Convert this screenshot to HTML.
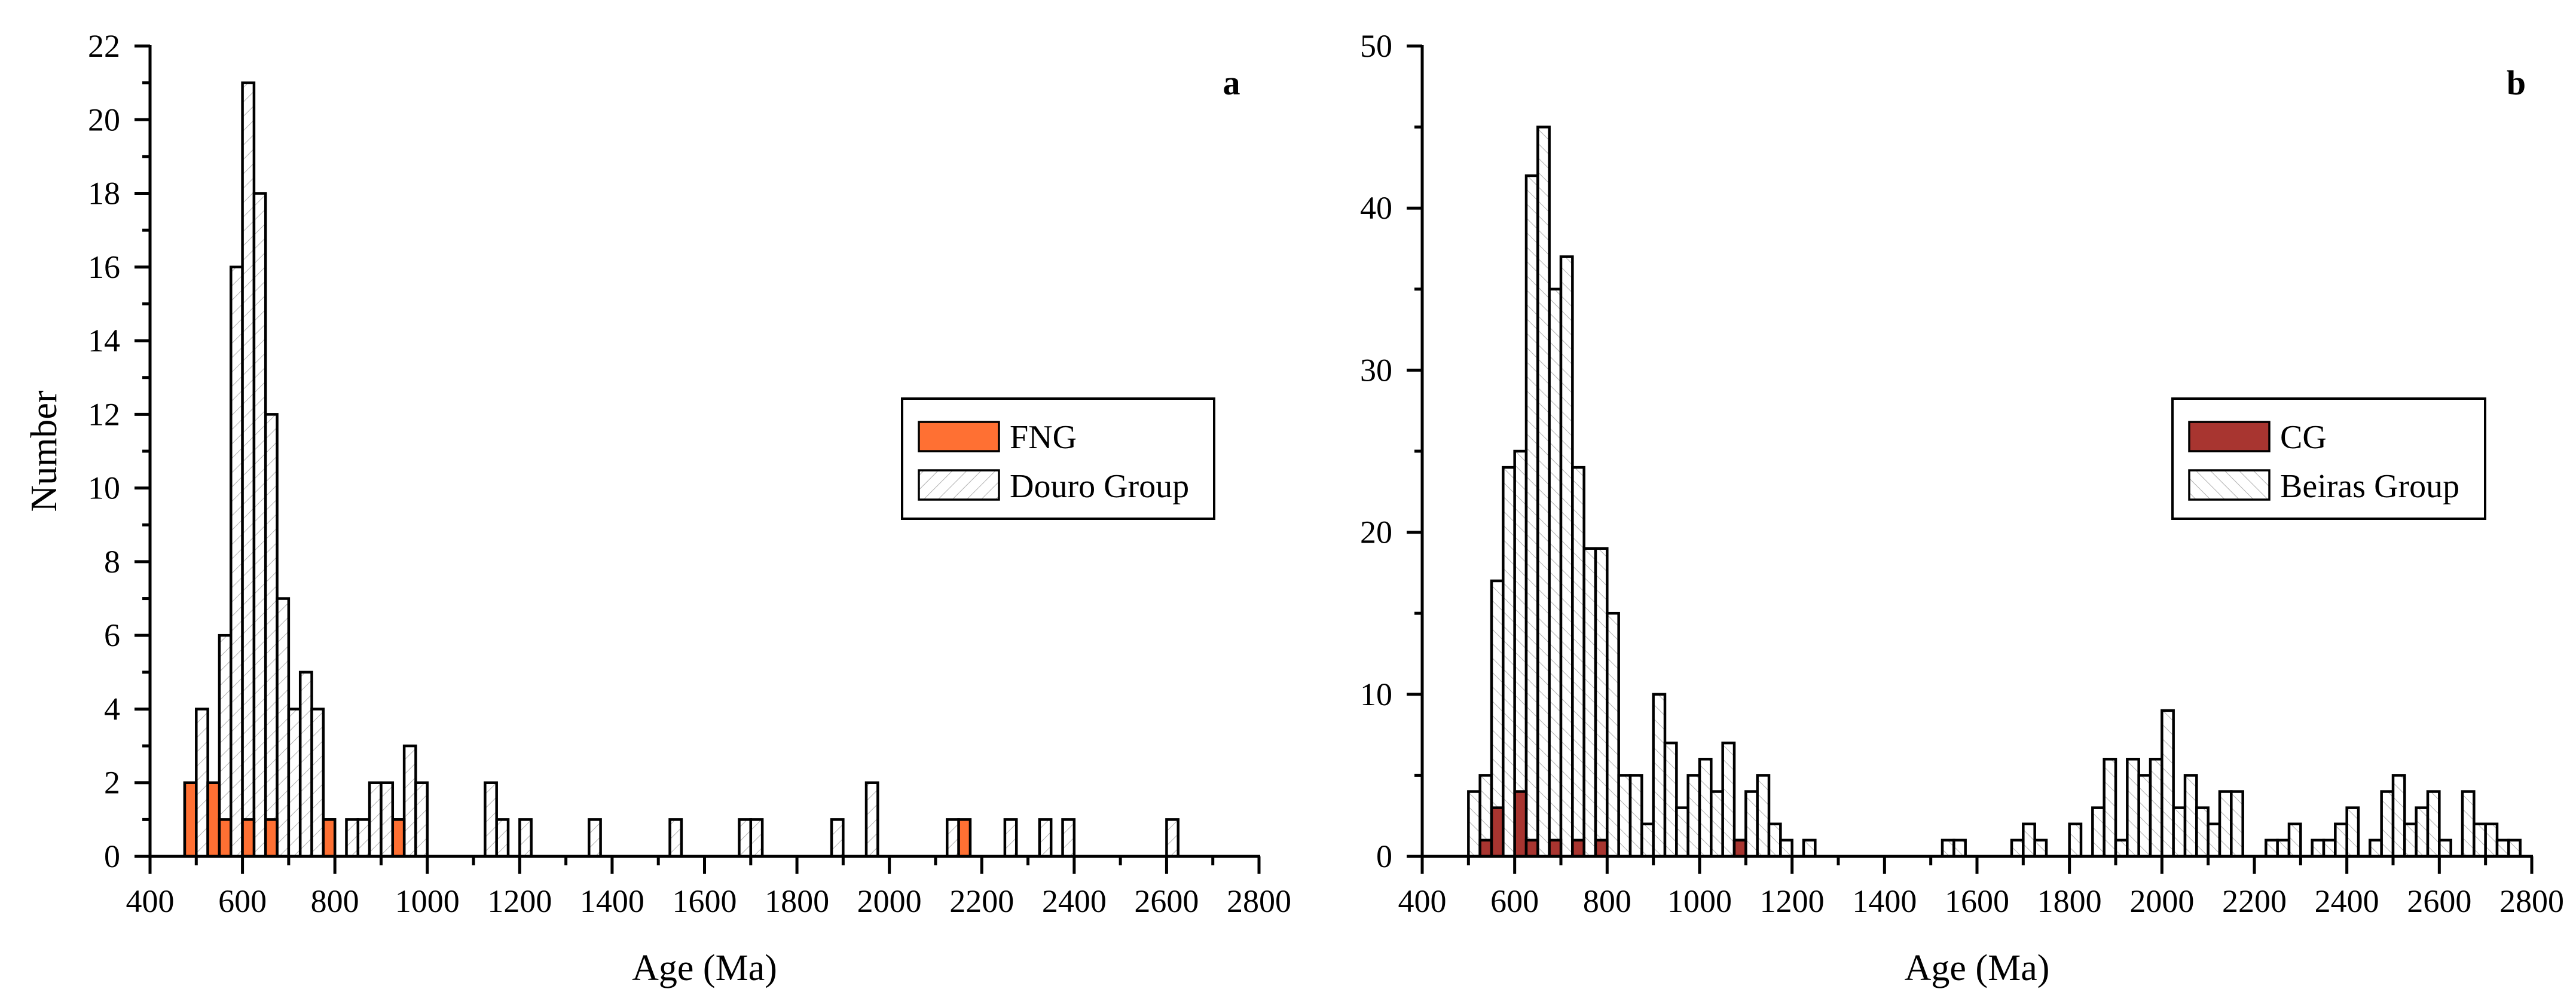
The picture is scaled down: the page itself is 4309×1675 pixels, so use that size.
<!DOCTYPE html>
<html><head><meta charset="utf-8"><style>
html,body{margin:0;padding:0;background:#fff;}
svg{display:block;font-family:"Liberation Serif",serif;}
</style></head><body>
<svg id="chart" width="4309" height="1675" viewBox="0 0 4309 1675" xmlns="http://www.w3.org/2000/svg">
<defs>
<pattern id="hatchA" patternUnits="userSpaceOnUse" width="17" height="17" patternTransform="rotate(45)"><rect width="17" height="17" fill="#fff"/><line x1="0" y1="0" x2="0" y2="17" stroke="#b0b0b0" stroke-width="2"/></pattern>
<pattern id="hatchB" patternUnits="userSpaceOnUse" width="17" height="17" patternTransform="rotate(-45)"><rect width="17" height="17" fill="#fff"/><line x1="0" y1="0" x2="0" y2="17" stroke="#b0b0b0" stroke-width="2"/></pattern>
</defs>
</svg>
<script>
// Panel a data
const douroBins = [475,500,525,550,575,600,625,650,675,700,725,750,775,825,850,875,900,925,950,975,1125,1150,1200,1350,1525,1675,1700,1875,1950,2125,2250,2325,2375,2600];
const douroCounts = [2,4,2,6,16,21,18,12,7,4,5,4,1,1,1,2,2,1,3,2,2,1,1,1,1,1,1,1,2,1,1,1,1,1];
const fngBins = [475,525,550,600,650,775,925,2150];
const fngCounts = [2,2,1,1,1,1,1,1];
const yTicksA = [0,2,4,6,8,10,12,14,16,18,20,22];
// Panel b data
const beirasBins = [500,525,550,575,600,625,650,675,700,725,750,775,800,825,850,875,900,925,950,975,1000,1025,1050,1075,1100,1125,1150,1175,1225,1525,1550,1675,1700,1725,1800,1850,1875,1900,1925,1950,1975,2000,2025,2050,2075,2100,2125,2150,2225,2250,2275,2325,2350,2375,2400,2450,2475,2500,2525,2550,2575,2600,2650,2675,2700,2725,2750];
const beirasCounts = [4,5,17,24,25,42,45,35,37,24,19,19,15,5,5,2,10,7,3,5,6,4,7,1,4,5,2,1,1,1,1,1,2,1,2,3,6,1,6,5,6,9,3,5,3,2,4,4,1,1,2,1,1,2,3,1,4,5,2,3,4,1,4,2,2,1,1];
const cgBins = [525,550,600,625,675,725,775,1075];
const cgCounts = [1,3,4,1,1,1,1,1];
const yTicksB = [0,10,20,30,40,50];
const xTicks = [400,600,800,1000,1200,1400,1600,1800,2000,2200,2400,2600,2800];
const binWidth = 25;

const svg = document.getElementById('chart');
const NS = 'http://www.w3.org/2000/svg';
function mk(tag, attrs, parent){
  const e = document.createElementNS(NS, tag);
  for (const k in attrs) e.setAttribute(k, attrs[k]);
  (parent||svg).appendChild(e);
  return e;
}

function panel(opt){
  const g = mk('g', {});
  
  
  const x0 = opt.x0, x1 = opt.x1, yb = 1433, yt = 77;
  const xs = v => x0 + (v - 400) / 2400 * (x1 - x0);
  const ys = v => yb - v / opt.ymax * (yb - yt);
  opt.bgBins.forEach((b, i) => {
    const r = mk('rect', {x: xs(b), y: ys(opt.bgCounts[i]), width: xs(b + binWidth) - xs(b), height: yb - ys(opt.bgCounts[i]), fill: 'url(#' + opt.hatch + ')', stroke: '#000', 'stroke-width': 4.5}, g);
    
    
  });
  opt.fgBins.forEach((b, i) => {
    const r = mk('rect', {x: xs(b), y: ys(opt.fgCounts[i]), width: xs(b + binWidth) - xs(b), height: yb - ys(opt.fgCounts[i]), fill: opt.fgColor, stroke: '#000', 'stroke-width': 4.5}, g);
    
    
  });
  const ax = mk('line', {x1: x0, y1: yb, x2: x1 + 2, y2: yb, stroke: '#000', 'stroke-width': 5}, g);
  
  
  const ay = mk('line', {x1: x0, y1: yb + 2, x2: x0, y2: yt - 2, stroke: '#000', 'stroke-width': 5}, g);
  
  
  for (let v = 400; v <= 2800; v += 100) {
    const major = v % 200 === 0;
    mk('line', {x1: xs(v), y1: yb, x2: xs(v), y2: yb + (major ? 29 : 15), stroke: '#000', 'stroke-width': 5}, g);
  }
  xTicks.forEach(v => {
    const t = mk('text', {x: xs(v), y: 1526, 'font-size': 54, 'text-anchor': 'middle', fill: '#000'}, g);
    t.textContent = v;
    
    
  });
  for (let v = 0; v <= opt.ymax; v += opt.minor) {
    const major = opt.yTicks.includes(v);
    mk('line', {x1: x0, y1: ys(v), x2: x0 - (major ? 26 : 13), y2: ys(v), stroke: '#000', 'stroke-width': 5}, g);
  }
  opt.yTicks.forEach(v => {
    const t = mk('text', {x: x0 - 50, y: ys(v) + 18, 'font-size': 54, 'text-anchor': 'end', fill: '#000'}, g);
    t.textContent = v;
    
    
  });
  const xt = mk('text', {x: (x0 + x1) / 2, y: 1640, 'font-size': 62, 'text-anchor': 'middle', fill: '#000'}, g);
  xt.textContent = 'Age (Ma)';
  
  
  const pl = mk('text', {x: opt.letterX, y: 158, 'font-size': 58, 'font-weight': 'bold', 'text-anchor': 'middle', fill: '#000'}, g);
  pl.textContent = opt.letter;
  
  
  const lg = mk('g', {}, g);
  
  
  mk('rect', {x: opt.lx, y: 667, width: opt.lw, height: 201, fill: '#fff', stroke: '#000', 'stroke-width': 4}, lg);
  const s1 = mk('rect', {x: opt.lx + 28, y: 706, width: 134, height: 49, fill: opt.fgColor, stroke: '#000', 'stroke-width': 3.5}, lg);
  
  
  const t1 = mk('text', {x: opt.lx + 180, y: 750, 'font-size': 56, fill: '#000'}, lg);
  t1.textContent = opt.fgLabel;
  
  
  const s2 = mk('rect', {x: opt.lx + 28, y: 787, width: 134, height: 49, fill: 'url(#' + opt.hatch + ')', stroke: '#000', 'stroke-width': 3.5}, lg);
  
  
  const t2 = mk('text', {x: opt.lx + 180, y: 832, 'font-size': 56, fill: '#000'}, lg);
  t2.textContent = opt.bgLabel;
  
  
}

panel({name: 'panel-a-douro', x0: 251, x1: 2106, ymax: 22, minor: 1, yTicks: yTicksA,
  bgBins: douroBins, bgCounts: douroCounts, fgBins: fngBins, fgCounts: fngCounts,
  fgColor: '#FF7033', hatch: 'hatchA', bgKey: 'douro-group', fgKey: 'fng',
  fgLabel: 'FNG', bgLabel: 'Douro Group', letter: 'a', letterX: 2060, lx: 1509, lw: 522});
panel({name: 'panel-b-beiras', x0: 2379, x1: 4235, ymax: 50, minor: 5, yTicks: yTicksB,
  bgBins: beirasBins, bgCounts: beirasCounts, fgBins: cgBins, fgCounts: cgCounts,
  fgColor: '#A83530', hatch: 'hatchB', bgKey: 'beiras-group', fgKey: 'cg',
  fgLabel: 'CG', bgLabel: 'Beiras Group', letter: 'b', letterX: 4209, lx: 3634, lw: 523});

const yl = mk('text', {x: 0, y: 0, 'font-size': 62, 'text-anchor': 'middle', fill: '#000', transform: 'translate(94,755) rotate(-90)'});
yl.textContent = 'Number';


</script>
</body></html>
